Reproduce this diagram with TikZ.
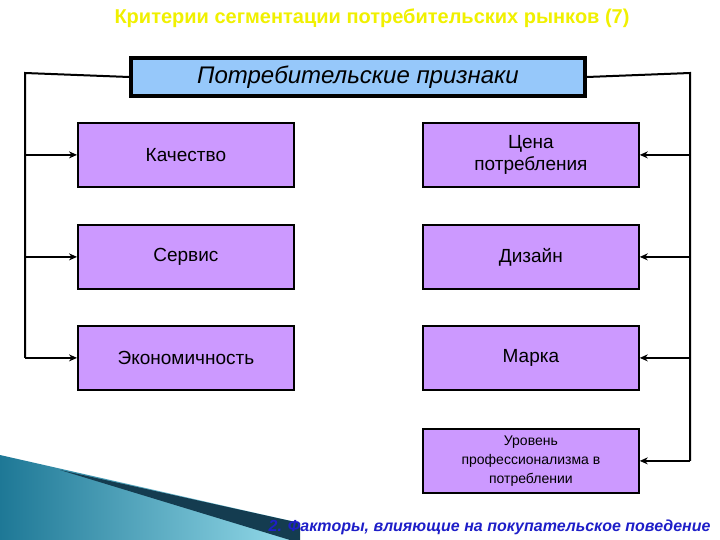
\documentclass[tikz,border=0pt]{standalone}
\usepackage{fontspec}
\setmainfont{Liberation Sans}
\usetikzlibrary{arrows.meta}
\definecolor{critfill}{RGB}{204,153,255}
\definecolor{hdrfill}{RGB}{150,200,250}
\definecolor{tealA}{RGB}{30,120,150}
\definecolor{tealB}{RGB}{150,220,235}
\definecolor{tealD}{RGB}{20,60,80}
\definecolor{titlecol}{RGB}{240,240,0}
\definecolor{footcol}{RGB}{30,30,200}
\begin{document}
\begin{tikzpicture}[x=1pt,y=-1pt,
  crit/.style={draw=black,line width=1.8pt,fill=critfill,minimum width=216pt,minimum height=64pt,anchor=north west,align=center,font=\fontsize{19}{22}\selectfont,inner sep=2pt},
  con/.style={line width=2pt,draw=black},
  arr/.style={line width=2pt,-{Stealth[length=8pt,width=7pt]}}]
\useasboundingbox (0,0) rectangle (720,540);
\shade[left color=tealA,right color=tealB] (0,455) -- (300,523) -- (300,540) -- (0,540) -- cycle;
\fill[tealD] (60,470) -- (300,523) -- (300,540) -- (290,540) -- cycle;
\node[font=\fontsize{20}{24}\selectfont\bfseries,text=titlecol] (title) at (372,18) {Критерии сегментации потребительских рынков (7)};
\node[draw=black,line width=4pt,fill=hdrfill,minimum width=454pt,minimum height=38pt,anchor=north west,font=\fontsize{24}{28}\selectfont\itshape] (hdr) at (129,56) {Потребительские признаки};
\node[crit] (q) at (77,122) {Качество};
\node[crit] (s) at (77,224) {Сервис};
\node[crit] (e) at (77,325) {Экономичность};
\node[crit] (c) at (422,122) {Цена\\потребления};
\node[crit] (d) at (422,224) {Дизайн};
\node[crit] (m) at (422,325) {Марка};
\node[crit,font=\fontsize{14}{19}\selectfont] (u) at (422,428) {Уровень\\профессионализма в\\потреблении};
\coordinate (lt) at (25,73); \coordinate (rt) at (690,73);
\draw[con] (hdr.west) -- (lt) -- (lt|-e.west);
\draw[con] (hdr.east) -- (rt) -- (rt|-u.east);
\draw[arr] (lt|-q.west) -- (q.west);
\draw[arr] (lt|-s.west) -- (s.west);
\draw[arr] (lt|-e.west) -- (e.west);
\draw[arr] (rt|-c.east) -- (c.east);
\draw[arr] (rt|-d.east) -- (d.east);
\draw[arr] (rt|-m.east) -- (m.east);
\draw[arr] (rt|-u.east) -- (u.east);
\node[font=\fontsize{16}{19}\selectfont\bfseries\itshape,text=footcol,anchor=east] (foot) at (714,527) {2. Факторы, влияющие на покупательское поведение};
\end{tikzpicture}
\end{document}
